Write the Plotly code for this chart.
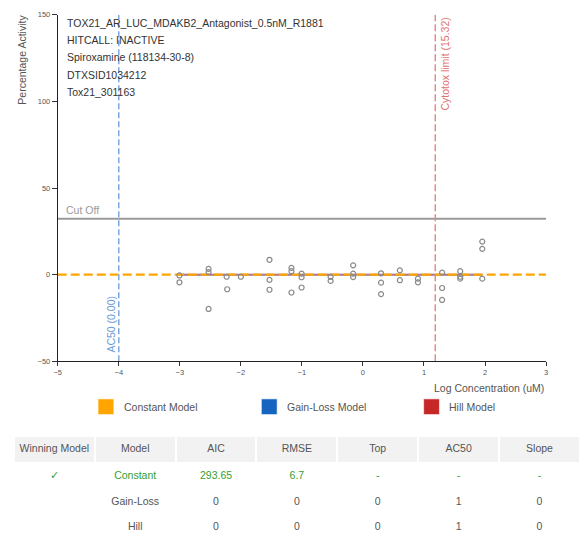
import math
import plotly.graph_objects as go

W, H = 582, 544

# ---------------- data ----------------
log_conc = [-3.006, -3.006, -2.529, -2.529, -2.529, -2.224, -2.233, -2.0,
            -1.531, -1.531, -1.531, -1.171, -1.171, -1.171, -1.005, -1.005, -1.005,
            -0.53, -0.53, -0.16, -0.16, -0.16, 0.297, 0.297, 0.297, 0.605, 0.605,
            0.901, 0.901, 1.297, 1.297, 1.297, 1.594, 1.594, 1.594, 1.955, 1.955, 1.955]
activity = [-0.45, -4.4, 3.35, 1.5, -19.8, -8.4, -1.2, -1.2,
            8.6, -3.0, -8.7, 3.9, 2.0, -10.3, 0.6, -1.5, -7.4,
            -3.6, -1.3, 5.4, 0.6, -1.4, 0.8, -4.6, -11.2, 2.5, -3.2,
            -2.3, -4.4, 1.2, -7.7, -14.6, 2.0, -1.2, -2.3, 19.1, 14.9, -2.3]

x_range = [-5, 3]
y_range = [-50, 150]
x_ticks = [-5, -4, -3, -2, -1, 0, 1, 2, 3]
y_ticks = [-50, 0, 50, 100, 150]

constant_value = 0
gainloss_value = 0
hill_value = 0
cutoff = 32.3
cytotox_limit_um = 15.32
ac50_log = -4.0
ac50_label = "AC50 (0.00)"

info_lines = ["TOX21_AR_LUC_MDAKB2_Antagonist_0.5nM_R1881",
              "HITCALL: INACTIVE",
              "Spiroxamine (118134-30-8)",
              "DTXSID1034212",
              "Tox21_301163"]

legend_names = ["Constant Model", "Gain-Loss Model", "Hill Model"]
legend_colors = ["#FFA500", "#1565C0", "#C62828"]

table_header = ["Winning\u00a0Model", "Model", "AIC", "RMSE", "Top", "AC50", "Slope"]
col_winning = ["\u2713", "", ""]
col_model = ["Constant", "Gain-Loss", "Hill"]
col_aic = ["293.65", "0", "0"]
col_rmse = ["6.7", "0", "0"]
col_top = ["-", "0", "0"]
col_ac50 = ["-", "1", "1"]
col_slope = ["-", "0", "0"]

# ---------------- layout helpers ----------------
FONT = "Liberation Sans, Arial, sans-serif"
TXT = "#555555"
GREEN = "#33a033"


def px_x(p):
    return p / W


def px_y(p):
    return 1 - p / H


cytotox_log = math.log10(cytotox_limit_um)
x_lo, x_hi = min(log_conc), max(log_conc)

fig = go.Figure()

# cut off line
fig.add_trace(go.Scatter(x=x_range, y=[cutoff, cutoff], mode="lines",
                         line=dict(color="#9a9a9a", width=2), hoverinfo="skip"))
# gain-loss and hill model fits (flat)
fig.add_trace(go.Scatter(x=[x_lo, x_hi], y=[gainloss_value] * 2, mode="lines",
                         line=dict(color="rgba(21,101,192,0.45)", width=2), hoverinfo="skip"))
fig.add_trace(go.Scatter(x=[x_lo, x_hi], y=[hill_value] * 2, mode="lines",
                         line=dict(color="rgba(198,40,40,0.45)", width=2), hoverinfo="skip"))
# constant model
fig.add_trace(go.Scatter(x=x_range, y=[constant_value] * 2, mode="lines",
                         line=dict(color="#FFA500", width=2.2, dash="9px,4px"), hoverinfo="skip"))
# AC50 line
fig.add_trace(go.Scatter(x=[ac50_log] * 2, y=y_range, mode="lines",
                         line=dict(color="#7fa8dc", width=1.5, dash="6px,3px"), hoverinfo="skip"))
# cytotox line
fig.add_trace(go.Scatter(x=[cytotox_log] * 2, y=y_range, mode="lines",
                         line=dict(color="#e58a8a", width=1.5, dash="7px,3px"), hoverinfo="skip"))
# data points
fig.add_trace(go.Scatter(x=log_conc, y=activity, mode="markers",
                         marker=dict(symbol="circle-open", size=5, color="#8a8a8a",
                                     line=dict(width=1.2, color="#8a8a8a"))))

annotations = []
# info text
for i, t in enumerate(info_lines):
    annotations.append(dict(text=t, xref="paper", yref="paper", x=px_x(62), y=px_y(19 + i * 17.7),
                            xanchor="left", yanchor="middle", showarrow=False,
                            font=dict(family=FONT, size=10.5, color="#333333")))
# cut off label
annotations.append(dict(text="Cut Off", xref="x", yref="y", x=x_range[0], y=cutoff,
                        xanchor="left", yanchor="bottom", xshift=6, yshift=1, showarrow=False,
                        font=dict(family=FONT, size=10.5, color="#999999")))
# cytotox label
annotations.append(dict(text="Cytotox limit (%.2f)" % cytotox_limit_um, xref="x", yref="y",
                        x=cytotox_log, y=y_range[1], xanchor="left", yanchor="top",
                        xshift=2, yshift=-1, textangle=-90, showarrow=False,
                        font=dict(family=FONT, size=10.5, color="#e07070")))
# AC50 label
annotations.append(dict(text=ac50_label, xref="x", yref="y", x=ac50_log, y=y_range[0],
                        xanchor="right", yanchor="bottom", xshift=0, yshift=7, textangle=-90,
                        showarrow=False, font=dict(family=FONT, size=10.5, color="#6a9ad6")))
# axis titles
annotations.append(dict(text="Percentage Activity", xref="paper", yref="paper", x=px_x(18),
                        y=px_y(9), xanchor="center", yanchor="top", textangle=-90, showarrow=False,
                        font=dict(family=FONT, size=10.5, color=TXT)))
annotations.append(dict(text="Log Concentration (uM)", xref="paper", yref="paper", x=px_x(548),
                        y=px_y(390), xanchor="right", yanchor="middle", showarrow=False,
                        font=dict(family=FONT, size=10.5, color=TXT)))

# legend (drawn)
shapes = []
legend_x = [95, 260, 424]
for name, col, lx in zip(legend_names, legend_colors, legend_x):
    shapes.append(dict(type="rect", xref="paper", yref="paper",
                       x0=px_x(lx), x1=px_x(lx + 16), y0=px_y(417.5), y1=px_y(401.5),
                       fillcolor=col, line=dict(color="rgba(255,255,255,0.6)", width=1)))
    annotations.append(dict(text=name, xref="paper", yref="paper", x=px_x(lx + 24), y=px_y(410),
                            xanchor="left", yanchor="middle", showarrow=False,
                            font=dict(family=FONT, size=10.5, color=TXT)))

# table
row_colors = [GREEN, TXT, TXT]
cols = [col_winning, col_model, col_aic, col_rmse, col_top, col_ac50, col_slope]
fig.add_trace(go.Table(
    domain=dict(x=[px_x(10), 1], y=[0, px_y(439.5)]),
    columnwidth=[1] * 7,
    header=dict(values=table_header, fill_color="#f2f2f2", line=dict(color="white", width=2),
                align="center", height=27, font=dict(family=FONT, size=10.5, color=TXT)),
    cells=dict(values=cols, fill_color="white", line=dict(color="white", width=1),
               align="center", height=25.5,
               font=dict(family=FONT, size=10.5, color=[row_colors] * 7)),
))

fig.update_layout(
    width=W, height=H,
    margin=dict(l=0, r=0, t=0, b=0),
    paper_bgcolor="white", plot_bgcolor="white",
    showlegend=False,
    annotations=annotations,
    shapes=shapes,
    xaxis=dict(domain=[px_x(54.3), px_x(547.7)], range=x_range, tickvals=x_ticks,
               ticks="outside", ticklen=4, tickcolor="#333", showline=True, linecolor="#222",
               linewidth=1, showgrid=False, zeroline=False,
               tickfont=dict(family=FONT, size=7.5, color=TXT)),
    yaxis=dict(domain=[px_y(363.3), px_y(11)], range=y_range, tickvals=y_ticks,
               ticks="outside", ticklen=5, tickcolor="#333", showline=True, linecolor="#222",
               linewidth=1, showgrid=False, zeroline=False,
               tickfont=dict(family=FONT, size=7.5, color=TXT)),
)

# remove the default page margin so the 582x544 figure fills the window exactly
fig.write_html("out.html", config={"displayModeBar": False},
               post_script="document.body.style.margin='0';")
